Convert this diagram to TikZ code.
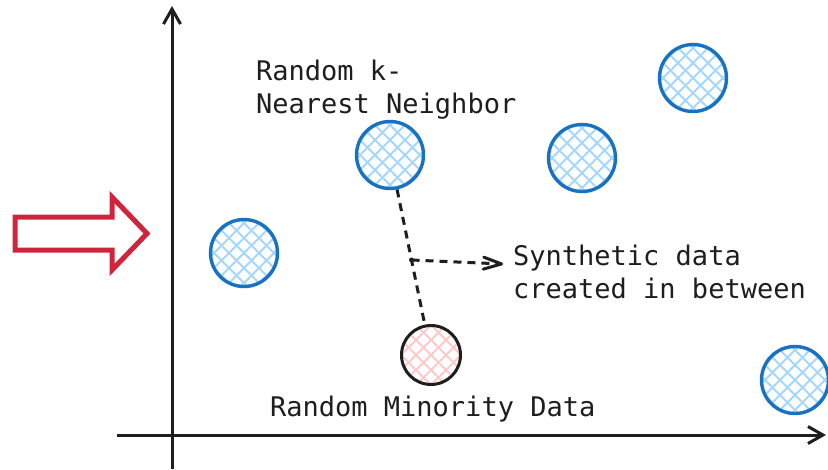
\documentclass[tikz,border=0pt]{standalone}
\usepackage{fontspec}
\newfontfamily\handfont{DejaVu Sans Mono}
\usetikzlibrary{arrows.meta,calc}
\definecolor{inkblack}{HTML}{1E1E1E}
\definecolor{dotblue}{HTML}{1971C2}
\definecolor{hatchblue}{HTML}{A5D8FF}
\definecolor{hatchred}{HTML}{FFC9C9}
\definecolor{arrowred}{RGB}{210,35,60}
\tikzset{
  hatched/.style={path picture={
    \begin{scope}[shift={(path picture bounding box.center)}]
      \foreach \k in {-6,...,6}{
        \draw[line width=1.8pt,#1] (\k*15-50,-50) -- (\k*15+50,50);
        \draw[line width=1.8pt,#1] (\k*15-50,50) -- (\k*15+50,-50);
      }
    \end{scope}}},
  bluedot/.style={circle,draw=dotblue,line width=3.4pt,minimum size=67pt,inner sep=0pt,hatched=hatchblue},
  reddot/.style={circle,draw=inkblack,line width=3pt,minimum size=59pt,inner sep=0pt,hatched=hatchred},
  axis/.style={draw=inkblack,line width=3pt,-{Straight Barb[length=15pt,width=17pt,line width=3pt]}},
  linkline/.style={draw=inkblack,line width=3pt,dash pattern=on 8pt off 6pt},
  linkarrow/.style={linkline,-{Straight Barb[length=18pt,width=12pt,line width=3pt,round]}},
  label/.style={font=\handfont\fontsize{27}{33}\selectfont,text=inkblack,inner sep=0pt,align=left,anchor=base west},
  bigarrow/.style={draw=arrowred,line width=5pt,line join=miter,fill=white}
}
\begin{document}
\begin{tikzpicture}[x=1pt,y=-1pt]
\useasboundingbox[fill=white] (0,0) rectangle (828,469);
% axes
\coordinate (yaxisfoot) at (172,469);
\coordinate (yaxistop) at (172,6);
\coordinate (xaxisstart) at (117,435);
\coordinate (xaxisend) at (826,435);
\draw[axis] (yaxisfoot) -- (yaxistop);
\draw[axis] (xaxisstart) -- (xaxisend);
% red block arrow
\draw[bigarrow] (15,217) -- (112,217) -- (112,197) -- (147,233.5) -- (112,270) -- (112,250) -- (15,250) -- cycle;
% points
\node[bluedot] (knn) at (390,155) {};
\node[bluedot] (p2) at (582,158) {};
\node[bluedot] (p3) at (693,78) {};
\node[bluedot] (p4) at (244,253) {};
\node[bluedot] (p5) at (795,380) {};
\node[reddot] (mino) at (431,355) {};
% link
\draw[linkline] (knn) -- (mino);
\coordinate (mid) at ($(knn)!0.525!(mino)$);
\coordinate (synthtip) at (503,264);
\fill[inkblack] (mid) circle (2.5pt);
\draw[linkarrow] (mid) -- (synthtip);
% labels
\node[label] (knnlabel) at (256,113) {Random k-\\Nearest Neighbor};
\node[label] (synthlabel) at (513,298) {Synthetic data\\created in between};
\node[label] (minolabel) at (270,416) {Random Minority Data};
\end{tikzpicture}
\end{document}
